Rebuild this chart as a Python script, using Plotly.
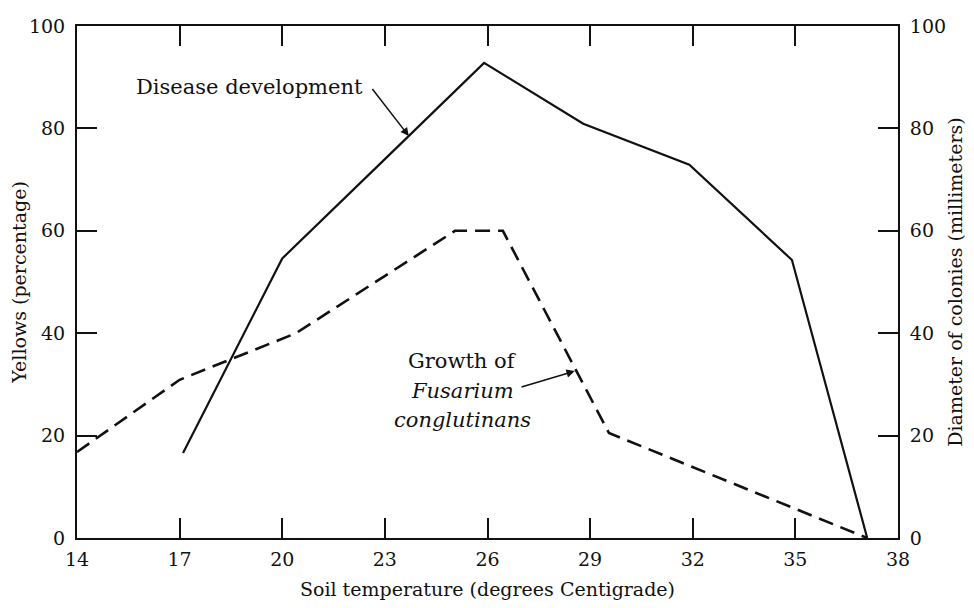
import plotly.graph_objects as go

# soil temperature (deg C) vs. percentage of yellows
temp_disease = [17.1, 20.0, 23.0, 25.9, 28.8, 31.9, 34.9, 37.1]
yellows_pct = [16.6, 54.6, 74.0, 92.8, 80.9, 72.9, 54.3, 0.0]

# soil temperature (deg C) vs. colony diameter of Fusarium conglutinans (mm)
temp_growth = [14.0, 17.0, 20.4, 25.05, 26.45, 29.55, 37.1]
colony_mm = [16.8, 30.9, 40.0, 60.0, 60.0, 20.5, 0.0]

x_ticks = [14, 17, 20, 23, 26, 29, 32, 35, 38]
y_ticks = [0, 20, 40, 60, 80, 100]

FONT = "DejaVu Serif"
INK = "#111111"

fig = go.Figure()

fig.add_trace(go.Scatter(
    x=temp_disease, y=yellows_pct, mode="lines",
    line=dict(color=INK, width=2.2),
    showlegend=False, hoverinfo="skip",
))
fig.add_trace(go.Scatter(
    x=temp_growth, y=colony_mm, mode="lines", yaxis="y2",
    line=dict(color=INK, width=2.6, dash="15px,8px"),
    showlegend=False, hoverinfo="skip",
))

axis_common = dict(
    showgrid=False, zeroline=False, automargin=False,
    showline=True, linecolor=INK, linewidth=2,
    ticks="inside", ticklen=20, tickwidth=1.5, tickcolor=INK,
    tickfont=dict(family=FONT, size=19, color=INK),
)
title_font = dict(family=FONT, size=19, color=INK)

# page body adds an 8px offset, so the figure is a little smaller than the window
fig.update_layout(
    width=958, height=592,
    margin=dict(l=69, r=68, t=18, b=62),
    paper_bgcolor="white", plot_bgcolor="white",
    font=dict(family=FONT, color=INK),
    xaxis=dict(
        **axis_common, range=[14, 38], tickvals=x_ticks, mirror="ticks",
        ticklabelstandoff=3,
        title=dict(text="Soil temperature (degrees Centigrade)",
                   font=title_font, standoff=15),
    ),
    yaxis=dict(
        **axis_common, range=[0, 100], tickvals=y_ticks,
        ticklabelstandoff=6,
        title=dict(text="Yellows (percentage)", font=title_font, standoff=6),
    ),
    yaxis2=dict(
        **axis_common, range=[0, 100], tickvals=y_ticks,
        ticklabelstandoff=6, overlaying="y", side="right",
        title=dict(text="Diameter of colonies (millimeters)",
                   font=title_font, standoff=6),
    ),
)

label_font = dict(family=FONT, size=21, color=INK)

fig.add_annotation(x=19.05, y=88, text="Disease development", showarrow=False,
                   font=label_font, xanchor="center")
fig.add_annotation(x=23.7, y=78.5, ax=22.6, ay=88.0, axref="x", ayref="y",
                   text="", showarrow=True, arrowhead=2, arrowsize=1.1,
                   arrowwidth=1.5, arrowcolor=INK)

for yv, txt in [(34.6, "Growth of"), (28.7, "<i>Fusarium</i>"),
                (23.0, "<i>conglutinans</i>")]:
    fig.add_annotation(x=25.26, y=yv, text=txt, showarrow=False,
                       font=label_font, xanchor="center")
fig.add_annotation(x=28.55, y=32.6, ax=26.95, ay=29.4, axref="x", ayref="y",
                   text="", showarrow=True, arrowhead=2, arrowsize=1.1,
                   arrowwidth=1.5, arrowcolor=INK)

fig.write_html("out.html")
